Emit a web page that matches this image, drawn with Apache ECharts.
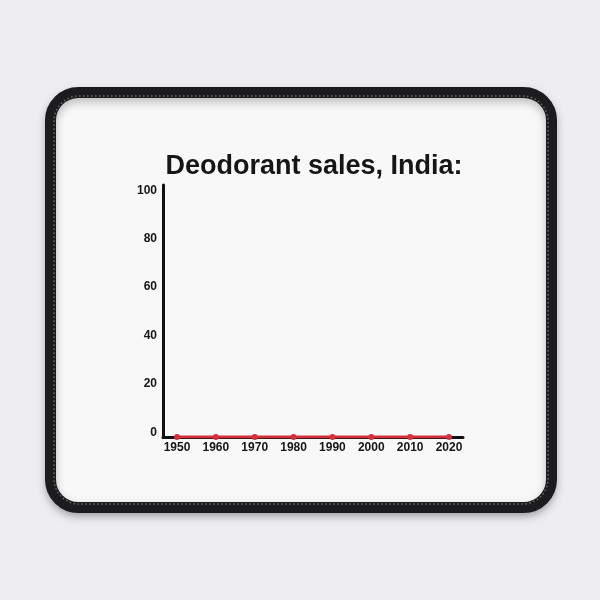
<!DOCTYPE html>
<html>
<head>
<meta charset="utf-8">
<script src="https://cdn.jsdelivr.net/npm/echarts@6/dist/echarts.min.js"></script>
<style>
html,body{margin:0;padding:0;background:#eeeef1;}
#chart{width:600px;height:600px;}
</style>
</head>
<body>
<div id="chart"></div>
<script>
var titleText = 'Deodorant sales, India:';
var years = [1950, 1960, 1970, 1980, 1990, 2000, 2010, 2020];
var sales = [0, 0, 0, 0, 0, 0, 0, 0];
var yTicks = [0, 20, 40, 60, 80, 100];

var chart = echarts.init(document.getElementById('chart'), null, {renderer: 'canvas'});
var FONT = '"Liberation Sans", Arial, Helvetica, sans-serif';

var option = {
  backgroundColor: '#eeeef1',
  animation: false,
  graphic: [
    {
      type: 'rect', z: -10,
      shape: {x: 50.5, y: 92.5, width: 501, height: 415, r: 28},
      style: {fill: '#f8f8f8', stroke: '#1c1c1e', lineWidth: 11,
              shadowBlur: 8, shadowOffsetY: 4, shadowColor: 'rgba(0,0,0,0.25)'}
    },
    {
      type: 'rect', z: -9,
      shape: {x: 54, y: 96, width: 494, height: 408, r: 25},
      style: {fill: 'none', stroke: '#6a6a6e', lineWidth: 1.5, lineDash: [1.5, 2.5]}
    }
  ],
  title: {
    text: titleText,
    left: 309,
    textAlign: 'center',
    top: 148,
    textStyle: {fontFamily: FONT, fontSize: 27, fontWeight: 'bold', color: '#161616'}
  },
  grid: {left: 163, right: 137, top: 185, bottom: 163, containLabel: false},
  xAxis: {
    type: 'value',
    min: 1946.4,
    max: 2023.6,
    splitLine: {show: false},
    axisTick: {show: false},
    axisLine: {show: true, onZero: false, lineStyle: {color: '#111', width: 3}},
    axisLabel: {
      customValues: years,
      formatter: function (v) { return String(v); },
      margin: 5,
      fontFamily: FONT, fontSize: 12, fontWeight: 'bold', color: '#161616'
    }
  },
  yAxis: {
    type: 'value',
    min: 0,
    max: 104,
    splitLine: {show: false},
    axisTick: {show: false},
    axisLine: {show: true, lineStyle: {color: '#111', width: 3}},
    axisLabel: {
      customValues: yTicks,
      margin: 6,
      verticalAlign: 'bottom',
      lineHeight: 9,
      fontFamily: FONT, fontSize: 12, fontWeight: 'bold', color: '#161616'
    }
  },
  series: [{
    type: 'line',
    data: years.map(function (y, i) { return [y, sales[i]]; }),
    symbol: 'circle',
    symbolSize: 6,
    lineStyle: {color: '#d3303b', width: 3},
    itemStyle: {color: '#d3303b'},
    z: 5
  }]
};
chart.setOption(option);
</script>
</body>
</html>
